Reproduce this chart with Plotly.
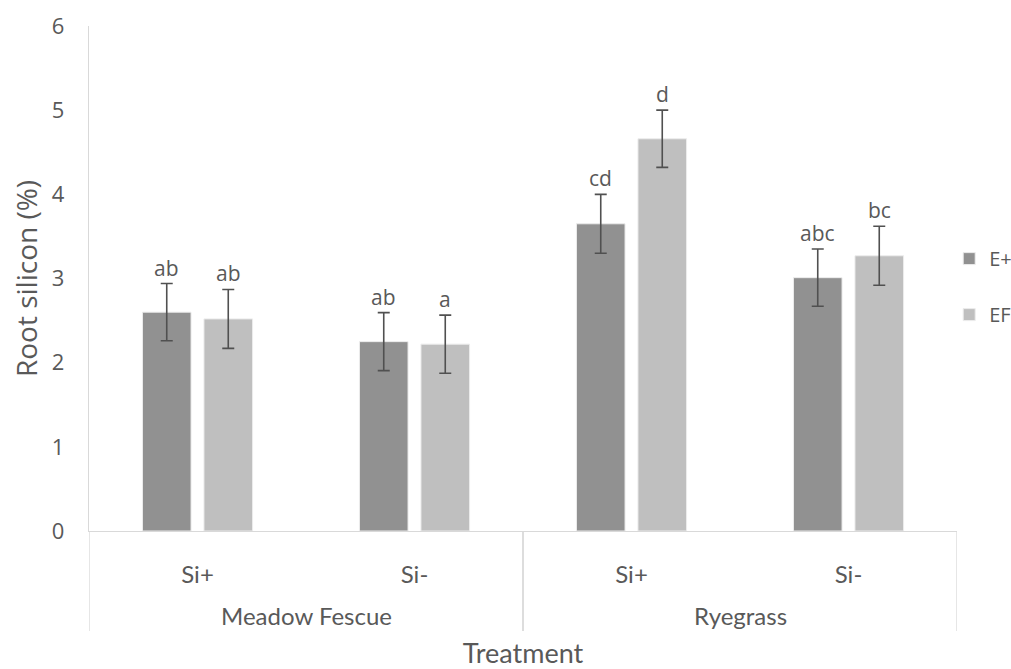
import plotly.graph_objects as go

species = ["Meadow Fescue", "Meadow Fescue", "Ryegrass", "Ryegrass"]
silicon = ["Si+", "Si-", "Si+", "Si-"]
e_plus = [2.60, 2.25, 3.65, 3.01]
e_plus_err = [0.34, 0.345, 0.35, 0.34]
e_free = [2.52, 2.22, 4.66, 3.27]
e_free_err = [0.35, 0.345, 0.34, 0.35]
e_plus_letters = ["ab", "ab", "cd", "abc"]
e_free_letters = ["ab", "a", "d", "bc"]
y_ticks = [0, 1, 2, 3, 4, 5, 6]

dark = "#919191"
light = "#bfbfbf"
txt = "#595959"
axis_col = "#d9d9d9"
font = "Open Sans"
cat_font = "Lato"
bargap = 0.433
groupgap = 0.21

keys = [f"{s}|{c}" for s, c in zip(species, silicon)]

fig = go.Figure()
for name, vals, errs, col in [("E+", e_plus, e_plus_err, dark), ("EF", e_free, e_free_err, light)]:
    fig.add_trace(go.Bar(
        x=keys, y=vals, name=name, legendgroup=name,
        marker=dict(color=col, line=dict(color="#ececec", width=1)),
        error_y=dict(type="data", array=errs, color="#505050", thickness=1.6, width=6),
    ))

off = (1 - bargap) / 4
ann = []
for i in range(len(keys)):
    for sign, vals, errs, labs in [(-1, e_plus, e_plus_err, e_plus_letters), (1, e_free, e_free_err, e_free_letters)]:
        ann.append(dict(x=i + sign * off, y=vals[i] + errs[i], xref="x", yref="y",
                        text=labs[i], showarrow=False, yanchor="bottom", yshift=0,
                        font=dict(family=font, size=21, color=txt)))

# group labels and dividers of the two-level category axis
groups = []
for s in species:
    if s not in groups:
        groups.append(s)
shapes = []
for g in groups:
    idx = [i for i, s in enumerate(species) if s == g]
    ann.append(dict(x=(idx[0] + idx[-1]) / 2, y=-0.167, xref="x", yref="paper", text=g,
                    showarrow=False, yanchor="middle",
                    font=dict(family=cat_font, size=24, color=txt)))
    for b in (idx[0] - 0.5, idx[-1] + 0.5):
        shapes.append(dict(type="line", xref="x", yref="paper", x0=b, x1=b, y0=0, y1=-0.198,
                           line=dict(color=axis_col, width=1.3)))

fig.update_layout(
    width=1011, height=669,
    margin=dict(l=89, r=54, t=26, b=138, autoexpand=False),
    paper_bgcolor="white", plot_bgcolor="white",
    barmode="group", bargap=bargap, bargroupgap=groupgap,
    font=dict(family=font, color=txt),
    annotations=ann, shapes=shapes,
    legend=dict(x=0.991, xanchor="left", y=0.578, yanchor="top", tracegroupgap=27,
                font=dict(family=font, size=20, color=txt), itemwidth=30),
    showlegend=True,
)
fig.update_yaxes(range=[0, 6], tickvals=y_ticks, showgrid=False, zeroline=False,
                 showline=True, linecolor=axis_col, linewidth=1.3, automargin=False,
                 ticks="", ticklabelstandoff=19,
                 tickfont=dict(family=font, size=22, color=txt),
                 title=dict(text="Root silicon (%)", font=dict(family=font, size=28, color=txt), standoff=6))
fig.update_xaxes(type="category", tickvals=keys, ticktext=silicon, range=[-0.5, len(keys) - 0.5],
                 showgrid=False, showline=True, linecolor=axis_col, linewidth=1.3, automargin=False,
                 ticks="", ticklabelstandoff=22, tickfont=dict(family=cat_font, size=24, color=txt),
                 title=dict(text="Treatment", font=dict(family=cat_font, size=27, color=txt), standoff=61))

fig.write_html("out.html", config={"displayModeBar": False},
               post_script="document.body.style.margin='0';")
